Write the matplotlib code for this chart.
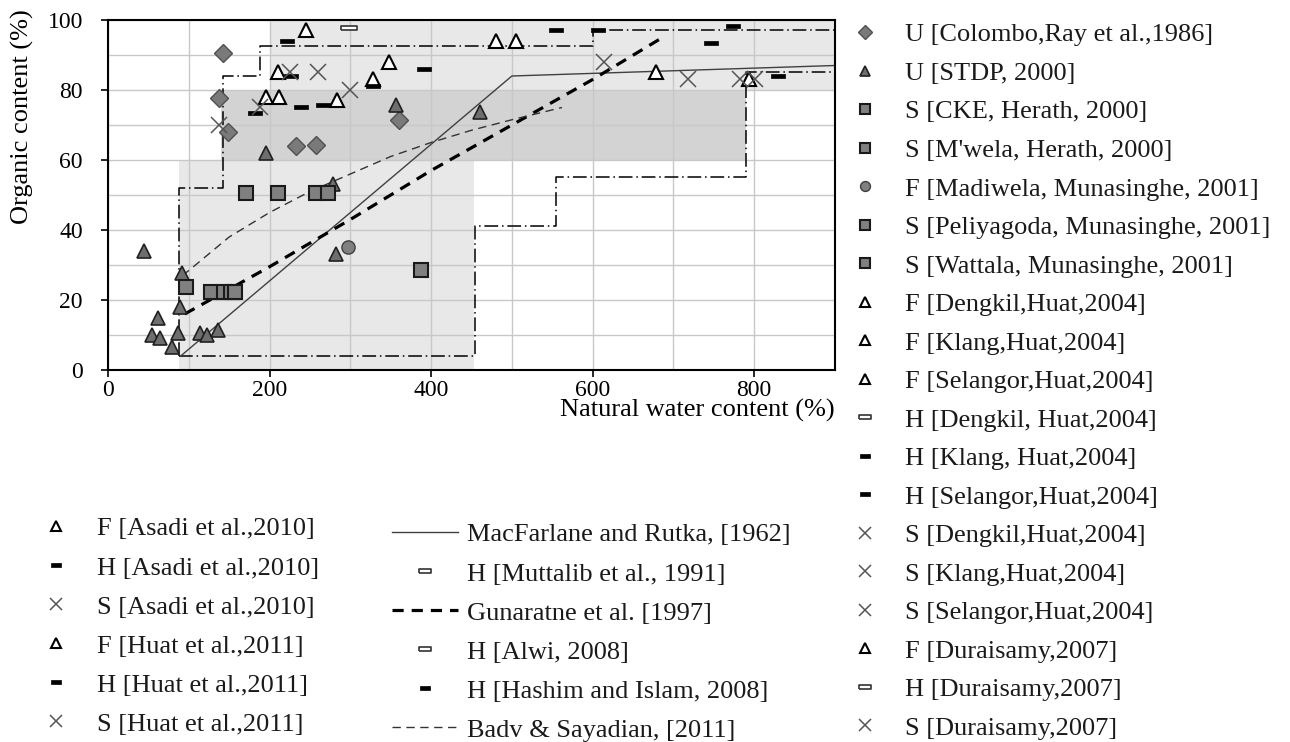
import numpy as np
import matplotlib.pyplot as plt
from matplotlib.ticker import MultipleLocator

plt.rcParams['font.family'] = ['Liberation Serif', 'DejaVu Serif']
plt.rcParams['text.color'] = '#1a1a1a'

# shaded ranges (x from, x to, y from, y to)
band_x0 = [88, 140, 200]
band_x1 = [453, 790, 900]
band_y0 = [0, 60, 80]
band_y1 = [60, 80, 100]

# dash-dot envelopes
upper_x = [88, 88, 142, 142, 188, 188, 601, 601, 900]
upper_y = [4, 52, 52, 84, 84, 92.5, 92.5, 97, 97]
lower_x = [88, 454, 454, 555, 555, 790, 790, 900]
lower_y = [4, 4, 41, 41, 55, 55, 85, 85]

# correlations
macfarlane_x = [90, 500, 900]
macfarlane_y = [4, 84, 87]
gunaratne_x = [95, 200, 300, 400, 500, 600, 690]
gunaratne_y = [16, 29.5, 43, 57, 70, 83, 95.5]
badv_x = [92, 101, 150, 200, 250, 300, 350, 400, 450, 500, 562]
badv_y = [27, 28.6, 38, 45, 51, 56, 61, 65, 68.5, 71.5, 75]

# data points
colombo_x = [142, 138, 149, 233, 258, 360]
colombo_y = [90.5, 77.6, 68, 64, 64.3, 71.4]
stdp_x = [44, 91, 89, 62, 54, 64, 87, 79, 114, 122, 136, 196, 278, 282, 356, 461]
stdp_y = [34, 27.6, 18, 14.8, 10, 9, 10.5, 6.7, 10.5, 10, 11.4, 62, 53, 33, 75.7, 73.8]
cke_x = [171, 210]
cke_y = [50.5, 50.5]
mwela_x = [258, 272]
mwela_y = [50.5, 50.5]
madiwela_x = [297]
madiwela_y = [35]
peliyagoda_x = [97, 128, 143]
peliyagoda_y = [23.8, 22.4, 22.4]
wattala_x = [152, 157, 387]
wattala_y = [22.4, 22.4, 28.6]
f_dengkil_x = [196, 212]
f_dengkil_y = [78, 78]
f_klang_x = [210, 284]
f_klang_y = [85, 77]
f_selangor_x = [328, 348]
f_selangor_y = [83, 88]
h_dengkil_x = [298]
h_dengkil_y = [97.6]
h_klang_x = [221, 227]
h_klang_y = [94, 84]
h_selangor_x = [182, 239, 266]
h_selangor_y = [73.3, 75, 75.7]
s_dengkil_x = [225]
s_dengkil_y = [85]
s_klang_x = [188, 138]
s_klang_y = [75, 70]
s_selangor_x = [260]
s_selangor_y = [85]
f_durai_x = [679, 793]
f_durai_y = [85, 83]
h_durai_x = []
h_durai_y = []
s_durai_x = [718, 782]
s_durai_y = [83, 83]
f_asadi_x = [480, 505]
f_asadi_y = [94, 94]
h_asadi_x = [328, 391]
h_asadi_y = [81, 86]
s_asadi_x = [299]
s_asadi_y = [80]
f_huat_x = [245]
f_huat_y = [97]
h_huat_x = [554, 607, 774]
h_huat_y = [97, 97, 98.4]
s_huat_x = [614, 801]
s_huat_y = [88, 83]
h_muttalib_x = []
h_muttalib_y = []
h_alwi_x = []
h_alwi_y = []
h_hashim_x = [747, 830]
h_hashim_y = [93.3, 84]

# marker styles
bar_verts = [(-1, -0.32), (1, -0.32), (1, 0.32), (-1, 0.32), (-1, -0.32)]
diamond = dict(marker='D', ms=9.5, mfc='#7a7a7a', mec='#505050', mew=1.0)
tri_fill = dict(marker='^', ms=10, mfc='#6e6e6e', mec='#202020', mew=1.2)
square = dict(marker='s', ms=10, mfc='#808080', mec='#1a1a1a', mew=1.5)
circle = dict(marker='o', ms=9.5, mfc='#808080', mec='#404040', mew=1.0)
tri_open = dict(marker='^', ms=10, mfc='white', mec='black', mew=1.5)
rect_open = dict(marker=bar_verts, ms=11, mfc='white', mec='#333333', mew=1.2)
dash = dict(marker=bar_verts, ms=9.5, mfc='black', mec='black', mew=0.5)
cross = dict(marker='x', ms=12, mec='#555555', mew=1.1)

fig = plt.figure(figsize=(12.9, 7.42), dpi=100)
ax = fig.add_axes([108 / 1290, 1 - 370 / 742, 727 / 1290, 350 / 742])

for x0, x1, y0, y1, c in zip(band_x0, band_x1, band_y0, band_y1,
                             ['#e8e8e8', '#d3d3d3', '#e8e8e8']):
    ax.fill_between([x0, x1], y0, y1, color=c, lw=0, zorder=0.2)

dashdot = dict(color='black', lw=1.1, dashes=(9, 2.5, 1, 2.5), zorder=2)
ax.plot(upper_x, upper_y, **dashdot)
ax.plot(lower_x, lower_y, **dashdot)

h_mac, = ax.plot(macfarlane_x, macfarlane_y, color='#404040', lw=1.0,
                 label='MacFarlane and Rutka, [1962]', zorder=2)
h_gun, = ax.plot(gunaratne_x, gunaratne_y, color='black', lw=2.3,
                 dashes=(3.5, 2.5), label='Gunaratne et al. [1997]', zorder=2)
h_badv, = ax.plot(badv_x, badv_y, color='#333333', lw=1.0, dashes=(6, 4),
                  label='Badv & Sayadian, [2011]', zorder=2)

def pts(x, y, style, label):
    h, = ax.plot(x, y, ls='none', label=label, zorder=3, **style)
    return h

right_handles = [
    pts(colombo_x, colombo_y, diamond, 'U [Colombo,Ray et al.,1986]'),
    pts(stdp_x, stdp_y, tri_fill, 'U [STDP, 2000]'),
    pts(cke_x, cke_y, square, 'S [CKE, Herath, 2000]'),
    pts(mwela_x, mwela_y, square, "S [M'wela, Herath, 2000]"),
    pts(madiwela_x, madiwela_y, circle, 'F [Madiwela, Munasinghe, 2001]'),
    pts(peliyagoda_x, peliyagoda_y, square, 'S [Peliyagoda, Munasinghe, 2001]'),
    pts(wattala_x, wattala_y, square, 'S [Wattala, Munasinghe, 2001]'),
    pts(f_dengkil_x, f_dengkil_y, tri_open, 'F [Dengkil,Huat,2004]'),
    pts(f_klang_x, f_klang_y, tri_open, 'F [Klang,Huat,2004]'),
    pts(f_selangor_x, f_selangor_y, tri_open, 'F [Selangor,Huat,2004]'),
    pts(h_dengkil_x, h_dengkil_y, rect_open, 'H [Dengkil, Huat,2004]'),
    pts(h_klang_x, h_klang_y, dash, 'H [Klang, Huat,2004]'),
    pts(h_selangor_x, h_selangor_y, dash, 'H [Selangor,Huat,2004]'),
    pts(s_dengkil_x, s_dengkil_y, cross, 'S [Dengkil,Huat,2004]'),
    pts(s_klang_x, s_klang_y, cross, 'S [Klang,Huat,2004]'),
    pts(s_selangor_x, s_selangor_y, cross, 'S [Selangor,Huat,2004]'),
    pts(f_durai_x, f_durai_y, tri_open, 'F [Duraisamy,2007]'),
    pts(h_durai_x, h_durai_y, rect_open, 'H [Duraisamy,2007]'),
    pts(s_durai_x, s_durai_y, cross, 'S [Duraisamy,2007]'),
]
left_handles = [
    pts(f_asadi_x, f_asadi_y, tri_open, 'F [Asadi et al.,2010]'),
    pts(h_asadi_x, h_asadi_y, dash, 'H [Asadi et al.,2010]'),
    pts(s_asadi_x, s_asadi_y, cross, 'S [Asadi et al.,2010]'),
    pts(f_huat_x, f_huat_y, tri_open, 'F [Huat et al.,2011]'),
    pts(h_huat_x, h_huat_y, dash, 'H [Huat et al.,2011]'),
    pts(s_huat_x, s_huat_y, cross, 'S [Huat et al.,2011]'),
]
mid_handles = [
    h_mac,
    pts(h_muttalib_x, h_muttalib_y, rect_open, 'H [Muttalib et al., 1991]'),
    h_gun,
    pts(h_alwi_x, h_alwi_y, rect_open, 'H [Alwi, 2008]'),
    pts(h_hashim_x, h_hashim_y, dash, 'H [Hashim and Islam, 2008]'),
    h_badv,
]

ax.set_xlim(0, 900)
ax.set_ylim(0, 100)
ax.xaxis.set_major_locator(MultipleLocator(200))
ax.xaxis.set_minor_locator(MultipleLocator(100))
ax.yaxis.set_major_locator(MultipleLocator(20))
ax.yaxis.set_minor_locator(MultipleLocator(10))
ax.set_axisbelow(True)
ax.grid(which='both', color='#c8c8c8', lw=1.0)
ax.tick_params(which='minor', length=0)
ax.tick_params(axis='x', which='major', length=5, width=1.2, pad=2, labelsize=17)
ax.tick_params(axis='y', which='major', length=5, width=1.2, pad=13, labelsize=17)
for s in ax.spines.values():
    s.set_linewidth(1.5)
    s.set_zorder(4)

ax.set_xlabel('Natural water content (%)', fontsize=19, loc='right')
ax.xaxis.set_label_coords(1.0, -0.115)
ax.xaxis.label.set_va('center')
ax.set_ylabel('Organic content (%)', fontsize=19, loc='top')
ax.yaxis.set_label_coords(-0.118, 1.03)
ax.yaxis.label.set_va('center')

common = dict(frameon=False, fontsize=19, borderpad=0, borderaxespad=0,
              markerscale=0.75, loc='upper left')
fig.legend(handles=right_handles, bbox_to_anchor=(852 / 1290, 1 - 23 / 742),
           handlelength=1.0, handletextpad=1.0, labelspacing=0.57, **common)
fig.legend(handles=left_handles, bbox_to_anchor=(43 / 1290, 1 - 517 / 742),
           handlelength=1.0, handletextpad=1.06, labelspacing=0.59, **common)
fig.legend(handles=mid_handles, bbox_to_anchor=(392 / 1290, 1 - 523 / 742),
           handlelength=2.5, handletextpad=0.34, labelspacing=0.59, **common)

fig.savefig('out.png', dpi=100)
